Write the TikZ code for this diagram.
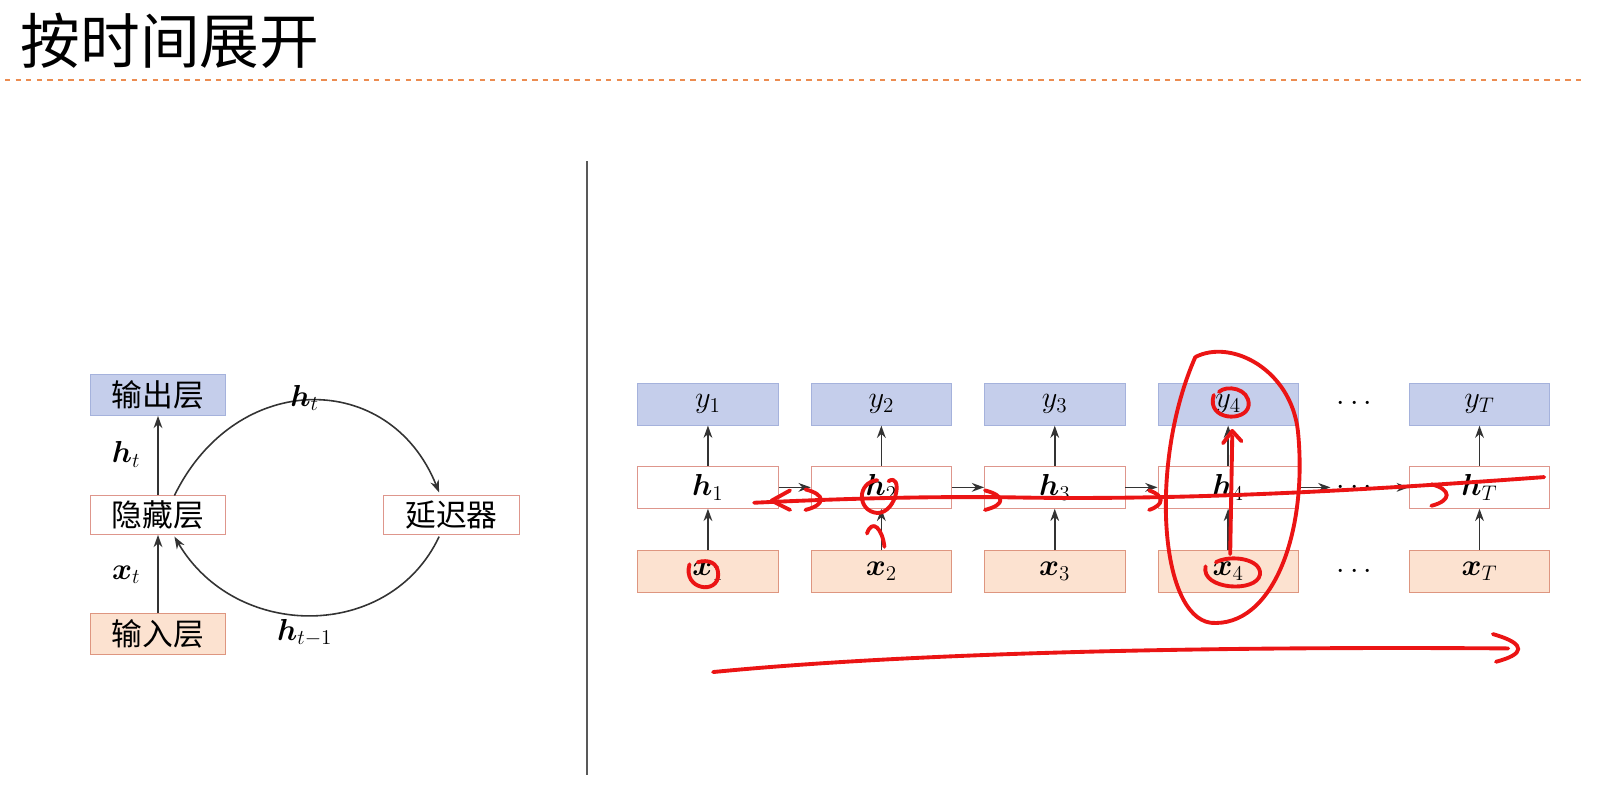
\documentclass[tikz,border=0pt]{standalone}
\usepackage{fontspec}
\usepackage{bm}
\newfontfamily\cjk{Noto Sans CJK SC}
\usetikzlibrary{arrows.meta}
\definecolor{bluef}{RGB}{197,206,235}
\definecolor{blueb}{RGB}{165,178,220}
\definecolor{peachf}{RGB}{252,226,208}
\definecolor{peachb}{RGB}{222,150,128}
\definecolor{hb}{RGB}{222,150,140}
\definecolor{dashcol}{RGB}{236,140,80}
\definecolor{ink}{RGB}{235,20,20}
\newlength\px \setlength\px{0.02052cm}
\tikzset{
 ybox/.style={draw=blueb,fill=bluef,minimum width=137\px,minimum height=41\px,inner sep=0pt,font=\fontsize{17.5}{17.5}\selectfont},
 hbox/.style={draw=hb,fill=white,minimum width=137\px,minimum height=41\px,inner sep=0pt,font=\fontsize{17.5}{17.5}\selectfont},
 xbox/.style={draw=peachb,fill=peachf,minimum width=137\px,minimum height=41\px,inner sep=0pt,font=\fontsize{17.5}{17.5}\selectfont},
 lbl/.style={font=\fontsize{17.5}{17.5}\selectfont},
 arr/.style={-{Stealth[length=7pt,width=5pt]},line width=0.9pt,black!80},
 redink/.style={draw=ink,line width=2.2pt,line cap=round,line join=round},
}
\begin{document}
\begin{tikzpicture}[x=0.02052cm,y=-0.02052cm]
\useasboundingbox (0,0) rectangle (1568.2,766.1);
\node[anchor=west,font=\cjk\fontsize{34}{34}\selectfont] (title) at (14,40) {按时间展开};
\draw[dashcol,dashed,line width=0.8pt] (5,78) -- (1545,78);
\draw[gray!70!black,line width=1pt] (572,157) -- (572,755);
% left
\node[ybox,minimum width=132\px,minimum height=40\px,font=\cjk\fontsize{17.5}{17.5}\selectfont] (out) at (154,385) {输出层};
\node[hbox,minimum width=132\px,minimum height=38\px,font=\cjk\fontsize{17.5}{17.5}\selectfont] (hid) at (154,502) {隐藏层};
\node[xbox,minimum width=132\px,minimum height=40\px,font=\cjk\fontsize{17.5}{17.5}\selectfont] (inp) at (154,618) {输入层};
\node[hbox,minimum width=132\px,minimum height=38\px,font=\cjk\fontsize{17.5}{17.5}\selectfont] (del) at (440,502) {延迟器};
\draw[arr] (inp) -- (hid);
\draw[arr] (hid) -- (out);
\node[lbl] (lx) at (123,560) {$\bm{x}_t$};
\node[lbl] (lh) at (123,443) {$\bm{h}_t$};
\draw[arr] (170,483) .. controls (230,360) and (380,360) .. (428,480);
\draw[arr] (428,523) .. controls (380,625) and (230,625) .. (170,523);
\node[lbl] (ht) at (297,388) {$\bm{h}_t$};
\node[lbl] (htm) at (297,617) {$\bm{h}_{t-1}$};
% right
\foreach \i/\x/\s in {1/690/1,2/859/2,3/1028/3,4/1197/4,T/1442/T}{
 \node[ybox] (y\i) at (\x,394) {$y_{\s}$};
 \node[hbox] (h\i) at (\x,475) {$\bm{h}_{\s}$};
 \node[xbox] (x\i) at (\x,557) {$\bm{x}_{\s}$};
 \draw[arr] (x\i) -- (h\i);
 \draw[arr] (h\i) -- (y\i);
}
\node[lbl] (dy) at (1320,394) {$\cdots$};
\node[lbl] (dh) at (1320,475) {$\cdots$};
\node[lbl] (dx) at (1320,557) {$\cdots$};
\draw[arr] (h1) -- (h2);
\draw[arr] (h2) -- (h3);
\draw[arr] (h3) -- (h4);
\draw[arr] (h4) -- (dh);
\draw[arr] (dh) -- (hT);
% red annotations
\draw[redink] (735,490) .. controls (800,487) and (900,483) .. (1000,485) .. controls (1150,487) and (1300,480) .. (1505,465);
\draw[redink] (770,478) -- (752,488) -- (770,497);
\draw[redink] (785,477) .. controls (805,482) and (805,492) .. (785,497);
\draw[redink] (960,478) .. controls (980,483) and (980,492) .. (960,497);
\draw[redink] (1120,478) .. controls (1135,483) and (1135,492) .. (1120,497);
\draw[redink] (1395,472) .. controls (1415,477) and (1415,488) .. (1395,493);
\draw[redink] (866,469) .. controls (880,460) and (875,500) .. (855,500) .. controls (835,498) and (835,470) .. (855,468);
\draw[redink] (862,533) .. controls (860,515) and (850,505) .. (845,520);
\draw[redink] (672,550) .. controls (665,575) and (700,580) .. (700,560) .. controls (700,548) and (690,545) .. (680,548);
\draw[redink] (1165,348) .. controls (1120,450) and (1130,600) .. (1180,607) .. controls (1240,612) and (1275,520) .. (1265,420) .. controls (1258,360) and (1200,330) .. (1165,348);
\draw[redink] (1183,385) .. controls (1175,410) and (1215,412) .. (1217,395) .. controls (1218,378) and (1195,375) .. (1188,382);
\draw[redink] (1199,540) -- (1201,425);
\draw[redink] (1192,432) -- (1201,420) -- (1210,430);
\draw[redink] (1175,552) .. controls (1170,575) and (1225,578) .. (1228,560) .. controls (1230,545) and (1200,540) .. (1185,548);
\draw[redink] (695,655) .. controls (900,635) and (1200,630) .. (1470,632);
\draw[redink] (1455,618) .. controls (1490,628) and (1485,638) .. (1458,645);
\end{tikzpicture}
\end{document}
